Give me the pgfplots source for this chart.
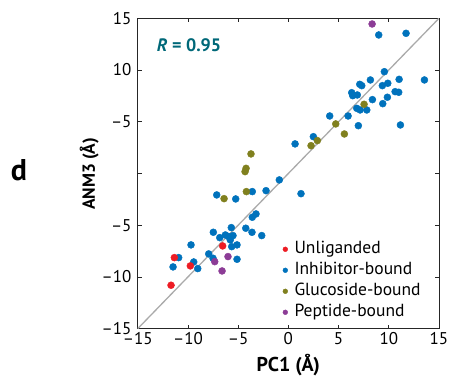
\documentclass[border=0pt]{standalone}
\usepackage{pgfplots}
\pgfplotsset{compat=1.18}
\usepackage{fontspec}
\setmainfont{PT Sans}
\definecolor{cRed}{RGB}{237,28,36}
\definecolor{cBlue}{RGB}{0,114,188}
\definecolor{cOlive}{RGB}{128,128,30}
\definecolor{cPurple}{RGB}{140,60,150}
\definecolor{cTeal}{RGB}{0,104,120}
\definecolor{cLine}{RGB}{170,170,170}
\begin{document}
\begin{tikzpicture}
\useasboundingbox (-137.7pt,-48.3pt) rectangle (313.3pt,328.7pt);
\begin{axis}[
  at={(0pt,0pt)}, anchor=south west,
  scale only axis, width=301.3pt, height=310.4pt,
  xmin=-15, xmax=15, ymin=-15, ymax=15,
  xtick={-15,-10,-5,0,5,10,15},
  ytick={-15,-10,-5,0,5,10,15},
  xticklabels={–15,–10,–5,0,5,10,15},
  yticklabels={–15,–10,–5,,–5,10,15},
  xtick pos=both, ytick pos=both,
  tick align=inside, major tick length=4pt,
  minor tick num=0,
  axis line style={line width=0.8pt, black!85},
  every tick/.style={line width=0.8pt, black!85},
  xticklabel style={font=\fontsize{17}{20}\selectfont, anchor=base, inner sep=0pt, yshift=-16.3pt},
  yticklabel style={font=\fontsize{17}{20}\selectfont, anchor=east, inner sep=0pt, xshift=-6pt},
  xlabel={\bfseries PC1 (Å)},
  ylabel={\bfseries ANM3 (Å)},
  every axis x label/.style={at={(axis description cs:0.5,0)}, anchor=center, yshift=-36.3pt, font=\fontsize{20}{23}\selectfont},
  every axis y label/.style={at={(axis description cs:0,0.5)}, anchor=center, xshift=-48.5pt, yshift=-0.5pt, rotate=90, font=\fontsize{17.5}{21}\selectfont},
  legend image code/.code={\draw[#1] plot coordinates {(0pt,0pt)};},
  legend cell align=left,
  legend style={draw=none, fill=none, inner sep=0pt, outer sep=0pt,
    at={(axis cs:-0.54,-6.6)}, anchor=north west,
    font=\fontsize{17.5}{20}\selectfont, row sep=6pt, column sep=0pt,
    nodes={inner sep=0pt, text height=12pt, text depth=3pt}},
]
\addlegendimage{only marks, mark=*, mark size=2.4pt, mark options={draw=cRed, fill=cRed}}
\addlegendentry{\hspace{6.8pt}Unliganded}
\addlegendimage{only marks, mark=*, mark size=2.4pt, mark options={draw=cBlue, fill=cBlue}}
\addlegendentry{\hspace{6.8pt}Inhibitor-bound}
\addlegendimage{only marks, mark=*, mark size=2.4pt, mark options={draw=cOlive, fill=cOlive}}
\addlegendentry{\hspace{6.8pt}Glucoside-bound}
\addlegendimage{only marks, mark=*, mark size=2.4pt, mark options={draw=cPurple, fill=cPurple}}
\addlegendentry{\hspace{6.8pt}Peptide-bound}

\addplot[forget plot, cLine, line width=1.3pt] coordinates {(-15,-15) (15,15)};

% Inhibitor-bound
\addplot[forget plot, only marks, mark=*, mark size=3.5pt, mark options={draw=cBlue, fill=cBlue}] coordinates {
(9.0,13.39) (11.72,13.55) (9.56,9.84) (11.03,9.1) (13.55,9.04) (8.17,9.04)
(7.11,8.62) (7.31,8.49) (9.36,8.49) (9.9,8.72) (6.31,7.81) (6.41,7.52)
(6.87,7.59) (10.63,7.91) (10.99,7.85) (9.86,7.37) (8.37,7.14) (9.4,6.75)
(6.81,6.3) (7.14,6.14) (7.81,6.14) (4.12,5.56) (5.95,5.56) (6.97,4.62)
(11.16,4.69) (2.49,3.56) (0.67,2.86) (-0.9,-0.62) (-3.59,-1.75) (-2.22,-1.66)
(-7.13,-2.07) (-5.24,-2.46) (1.26,-1.95) (-3.22,-3.91) (-3.59,-4.23)
(-5.68,-5.23) (-7.47,-5.68) (-4.24,-5.29) (-3.62,-5.68) (-2.65,-6.0)
(-6.83,-6.2) (-6.27,-5.94) (-5.94,-6.1) (-5.51,-6.0) (-5.78,-6.42)
(-5.11,-6.9) (-5.64,-7.07) (-9.69,-6.9) (-7.93,-7.77) (-7.5,-8.19)
(-5.11,-8.29) (-10.92,-8.13) (-11.48,-9.03) (-9.42,-8.55) (-9.02,-9.19)
};
% Glucoside-bound
\addplot[forget plot, only marks, mark=*, mark size=3.5pt, mark options={draw=cOlive, fill=cOlive}] coordinates {
(7.54,6.69) (4.72,4.79) (5.58,3.82) (2.89,3.18) (2.26,2.69) (-3.72,1.89)
(-4.21,0.5) (-4.31,0.18) (-4.18,-1.75) (-6.4,-2.43)
};
% Unliganded
\addplot[forget plot, only marks, mark=*, mark size=3.5pt, mark options={draw=cRed, fill=cRed}] coordinates {
(-6.54,-7.0) (-11.35,-8.13) (-9.76,-8.93) (-11.68,-10.8)
};
% Peptide-bound
\addplot[forget plot, only marks, mark=*, mark size=3.5pt, mark options={draw=cPurple, fill=cPurple}] coordinates {
(8.34,14.45) (-6.01,-8.03) (-7.33,-8.52) (-6.6,-9.42)
};

\node[anchor=west, inner sep=0pt, text=cTeal, font=\fontsize{18}{21}\selectfont\bfseries] at (axis cs:-13.1,12.42) {\textit{R} = 0.95};
\end{axis}
\node[font=\fontsize{30}{34}\selectfont\bfseries, inner sep=0pt] at (-118.7pt,158.7pt) {d};
\end{tikzpicture}
\end{document}
